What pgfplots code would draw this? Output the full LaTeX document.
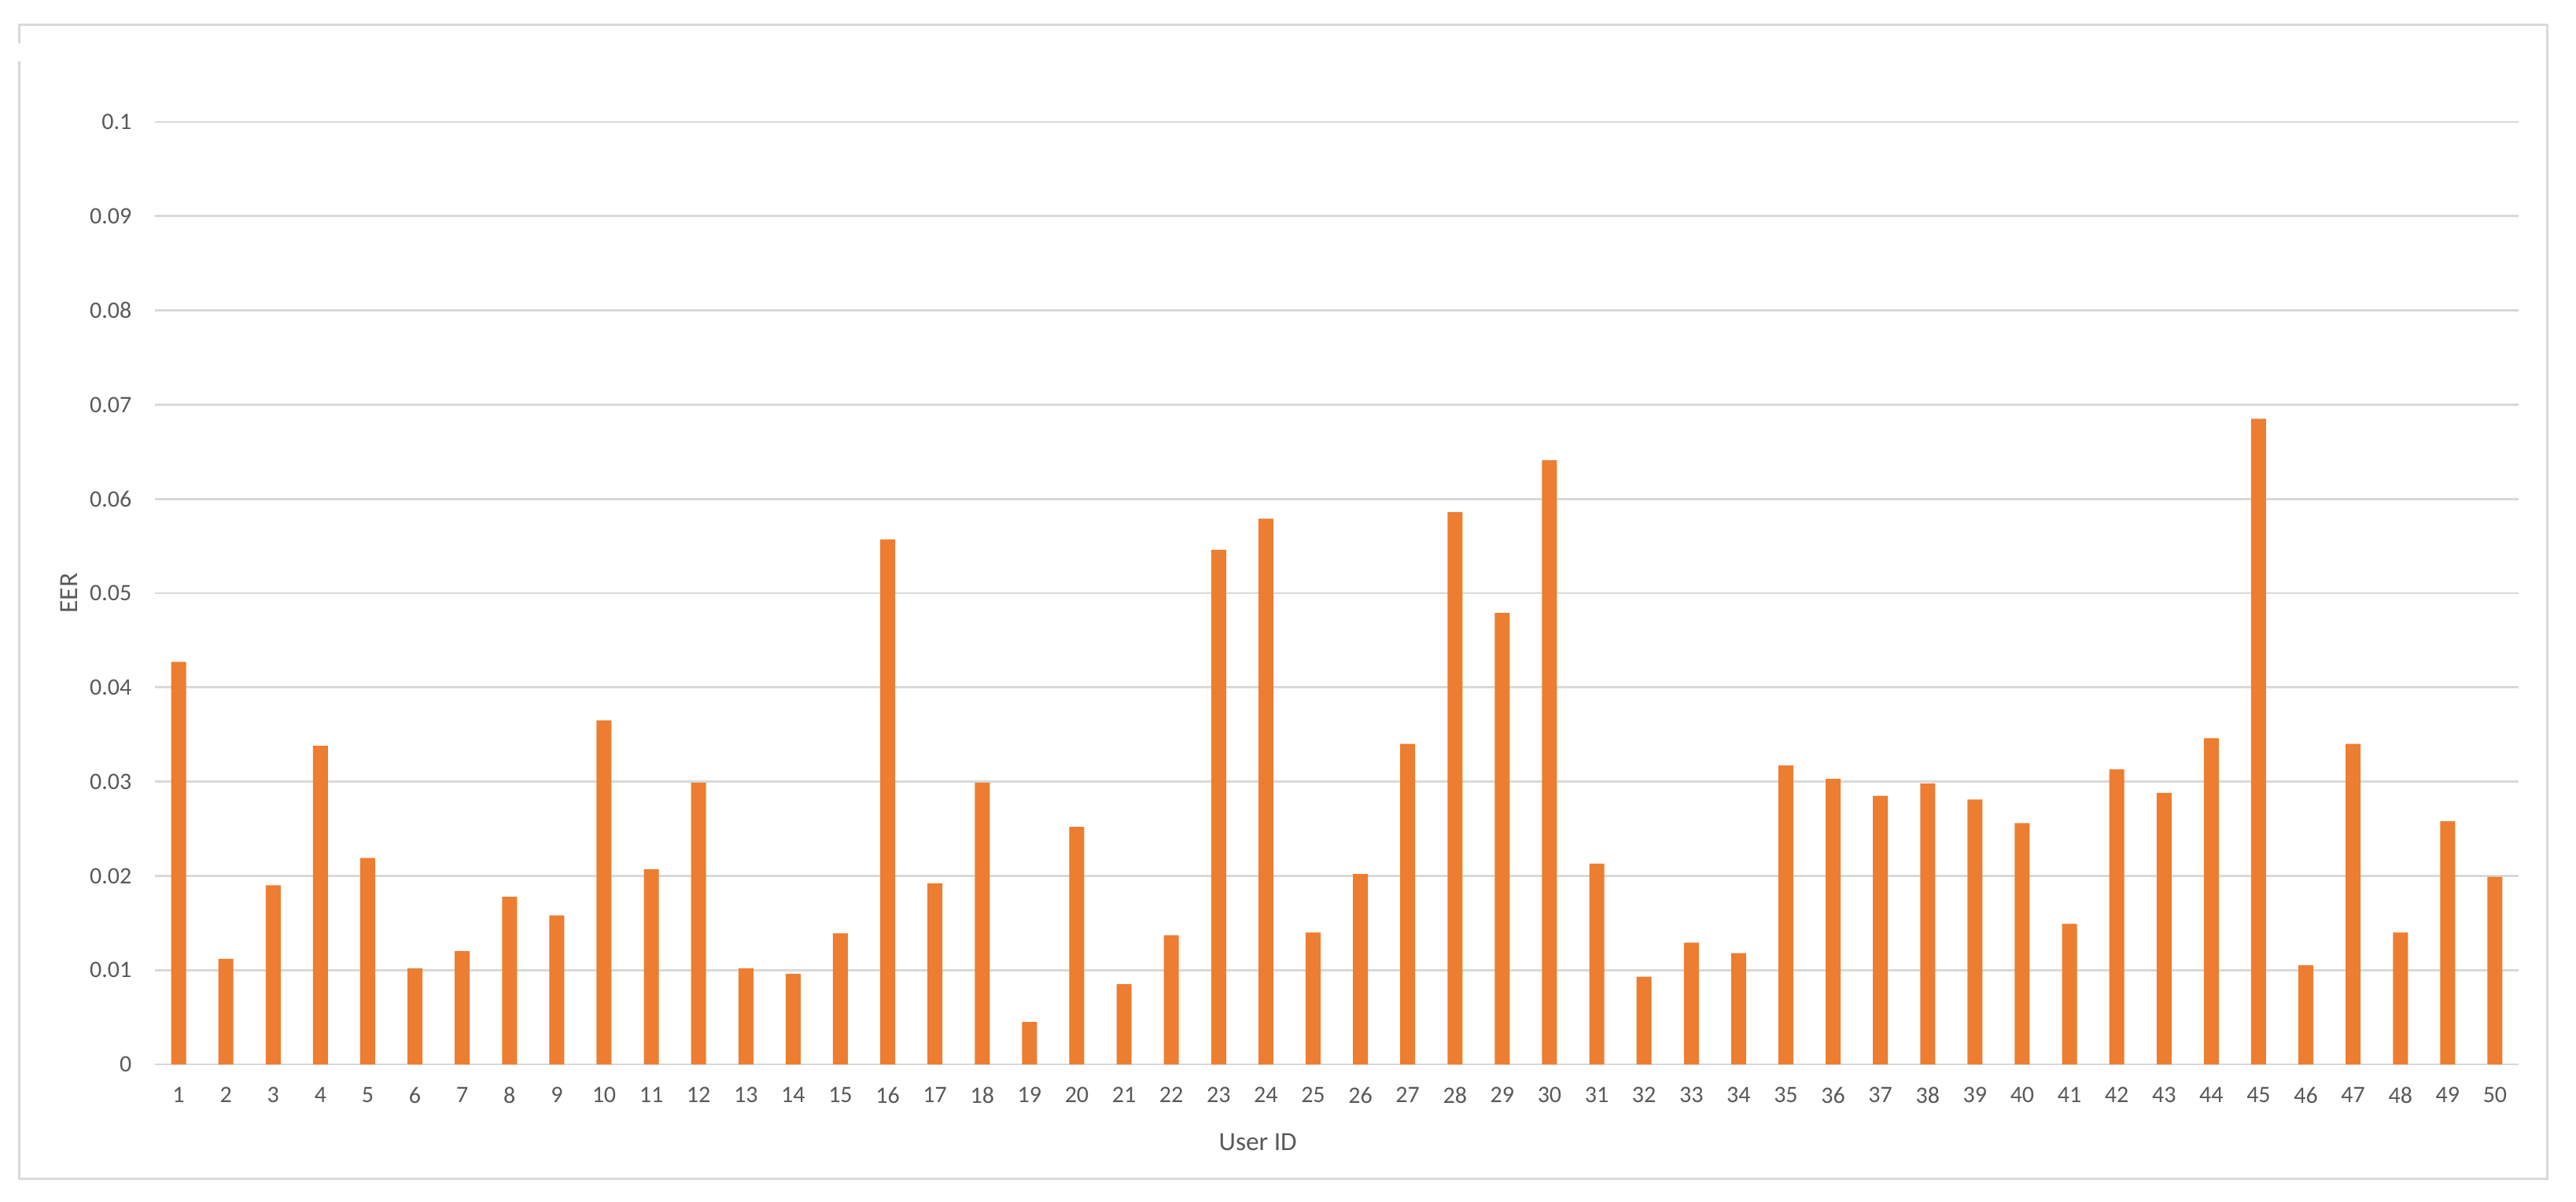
\documentclass[border=0pt]{standalone}
\usepackage{fontspec}
\setmainfont{Carlito}
\usepackage{pgfplots}
\pgfplotsset{compat=1.18}

\definecolor{barorange}{HTML}{ED7D31}
\definecolor{gridgray}{HTML}{D9D9D9}
\definecolor{labelgray}{HTML}{595959}

\begin{document}
\begin{tikzpicture}
% canvas, 1 px of the reference = 0.3pt
\path (0,0) rectangle (982.5pt,458.1pt);
% chart frame (with the small gap on the left edge)
\draw[gridgray, line width=0.9pt]
  (7.2pt,441.6pt) -- (7.2pt,448.5pt) -- (971.4pt,448.5pt) -- (971.4pt,8.7pt)
  -- (7.2pt,8.7pt) -- (7.2pt,434.7pt);

\begin{axis}[
  at={(59.1pt,52.2pt)}, anchor=south west,
  scale only axis,
  width=901.5pt, height=359.4pt,
  xmin=0.5, xmax=50.5,
  ymin=0, ymax=0.1,
  xtick={1,...,50},
  ytick={0,0.01,0.02,0.03,0.04,0.05,0.06,0.07,0.08,0.09,0.1},
  yticklabels={0,0.01,0.02,0.03,0.04,0.05,0.06,0.07,0.08,0.09,0.1},
  axis line style={draw=none},
  major tick length=0pt,
  ymajorgrids,
  grid style={draw=gridgray, line width=0.8pt},
  /pgf/number format/assume math mode=true,
  tick label style={font=\fontsize{9}{10}\selectfont, text=labelgray},
  yticklabel style={anchor=east, inner sep=0pt, xshift=-8.7pt},
  xticklabel style={anchor=center, inner sep=0pt, yshift=-11.7pt},
  xlabel={User ID},
  ylabel={EER},
  label style={font=\fontsize{10}{12}\selectfont, text=labelgray},
  xlabel style={at={(axis description cs:0.4666,-0.0826)}, anchor=center, inner sep=0pt},
  ylabel style={at={(axis description cs:-0.0363,0.5)}, anchor=center, inner sep=0pt},
  ybar, bar width=5.7pt,
]
\addplot[draw=none, fill=barorange] coordinates {
  (1,0.0427) (2,0.0112) (3,0.0190) (4,0.0338) (5,0.0219)
  (6,0.0102) (7,0.0120) (8,0.0178) (9,0.0158) (10,0.0365)
  (11,0.0207) (12,0.0299) (13,0.0102) (14,0.0096) (15,0.0139)
  (16,0.0557) (17,0.0192) (18,0.0299) (19,0.0045) (20,0.0252)
  (21,0.0085) (22,0.0137) (23,0.0546) (24,0.0579) (25,0.0140)
  (26,0.0202) (27,0.0340) (28,0.0586) (29,0.0479) (30,0.0641)
  (31,0.0213) (32,0.0093) (33,0.0129) (34,0.0118) (35,0.0317)
  (36,0.0303) (37,0.0285) (38,0.0298) (39,0.0281) (40,0.0256)
  (41,0.0149) (42,0.0313) (43,0.0288) (44,0.0346) (45,0.0685)
  (46,0.0105) (47,0.0340) (48,0.0140) (49,0.0258) (50,0.0199)
};
\end{axis}
\end{tikzpicture}
\end{document}
